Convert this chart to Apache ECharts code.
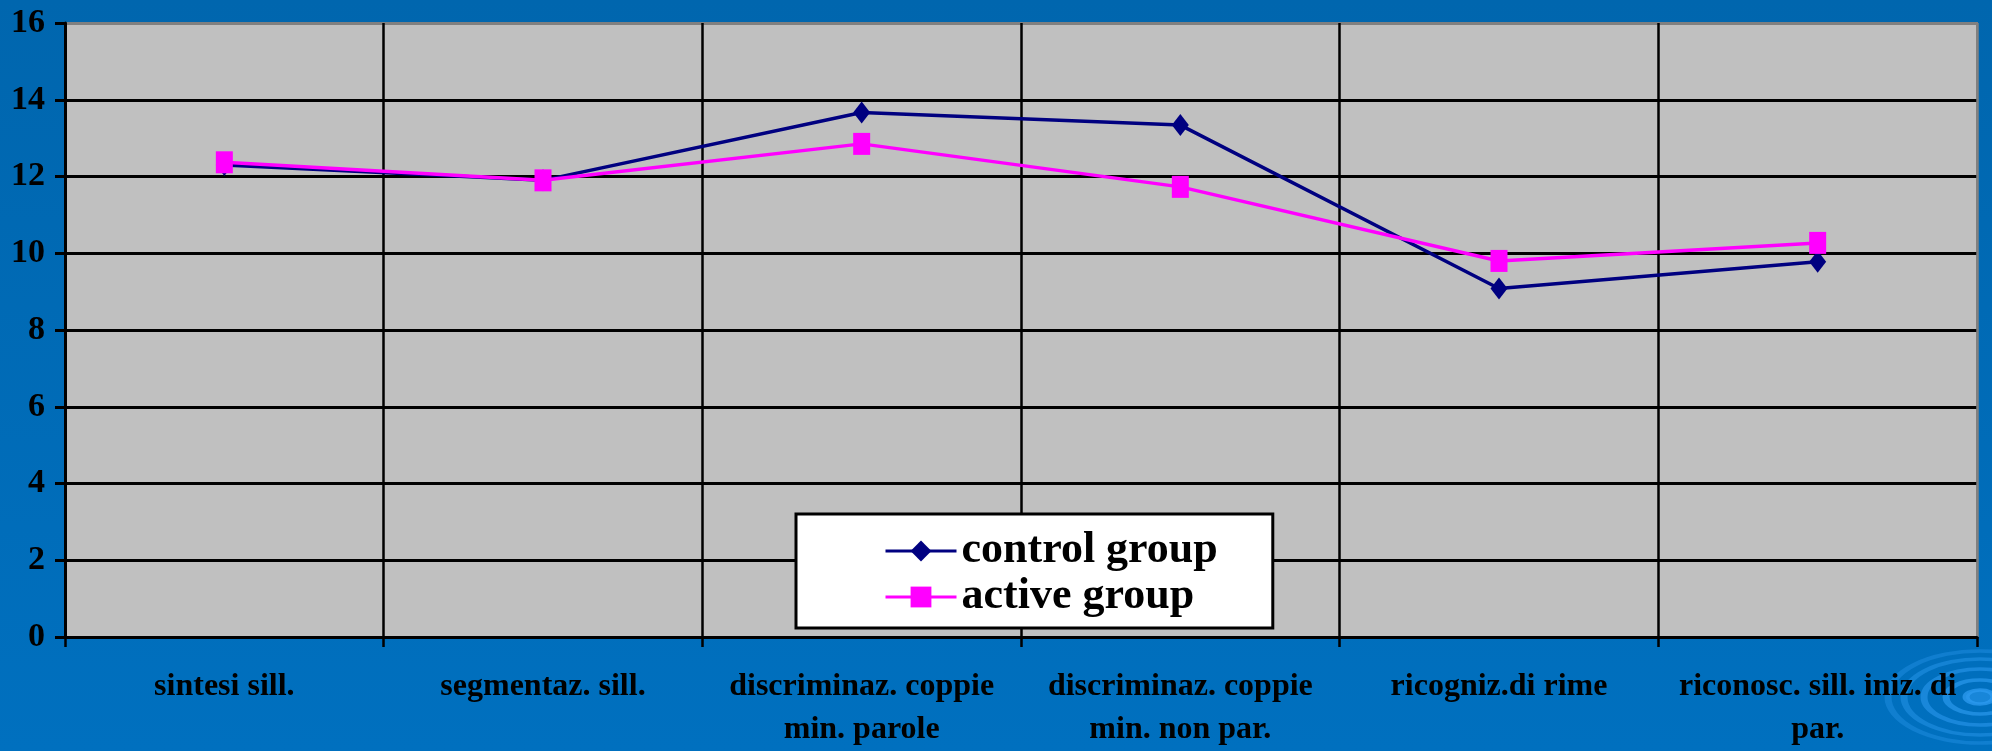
<!DOCTYPE html>
<html>
<head>
<meta charset="utf-8">
<title>control group vs active group</title>
<script src="https://cdn.jsdelivr.net/npm/echarts@6/dist/echarts.min.js"></script>
<style>
  html, body { margin: 0; padding: 0; background: #006AB4; }
  #chart { width: 1992px; height: 751px; }
</style>
</head>
<body>
<div id="chart"></div>
<script>
// Task categories (x axis), with manual line breaks
const categories = [
  'sintesi sill.',
  'segmentaz. sill.',
  'discriminaz. coppie\nmin. parole',
  'discriminaz. coppie\nmin. non par.',
  'ricogniz.di rime',
  'riconosc. sill. iniz. di\npar.'
];

// Mean scores per group
const controlGroup = [12.30, 11.90, 13.67, 13.34, 9.08, 9.78];
const activeGroup  = [12.37, 11.90, 12.85, 11.73, 9.80, 10.27];

const seriesNames = ['control group', 'active group'];

// Value axis range
const yMin = 0;
const yMax = 16;
const yStep = 2;

const serif = '"Liberation Serif", "Times New Roman", serif';
const yLineCount = (yMax - yMin) / yStep + 1;
const ySplitColors = Array.from({ length: yLineCount }, (_, i) => i === yLineCount - 1 ? '#808080' : '#000000');
const xSplitColors = Array.from({ length: categories.length + 1 }, (_, i) => i === categories.length ? '#808080' : '#000000');

const chart = echarts.init(document.getElementById('chart'), null, { renderer: 'canvas' });

// Concentric ripple rings in the lower-right corner of the slide
const rippleRadii = [14, 34, 56, 76, 92];
const ripple = {
  type: 'group',
  x: 1980,
  y: 697,
  scaleY: 0.5,
  silent: true,
  z: -1,
  children: rippleRadii.map((r, i) => ({
    type: 'circle',
    shape: { cx: 0, cy: 0, r: r },
    style: {
      fill: i === 0 ? 'rgba(40, 150, 235, 0.6)' : null,
      stroke: 'rgba(45, 155, 240, ' + (0.75 - i * 0.1) + ')',
      lineWidth: 7
    }
  }))
};

chart.setOption({
  backgroundColor: {
    type: 'linear', x: 0, y: 0, x2: 0, y2: 1,
    colorStops: [
      { offset: 0, color: '#0066AE' },
      { offset: 1, color: '#0070BF' }
    ]
  },
  animation: false,
  graphic: [ripple],
  grid: {
    left: 65, right: 15, top: 23, bottom: 110,
    show: true,
    backgroundColor: '#C0C0C0',
    borderColor: '#808080',
    borderWidth: 2
  },
  legend: {
    orient: 'vertical',
    left: 796,
    top: 514,
    data: seriesNames,
    backgroundColor: '#FFFFFF',
    borderColor: '#000000',
    borderWidth: 3,
    borderRadius: 0,
    padding: [14, 55, 8, 88],
    itemGap: 0,
    itemWidth: 71,
    itemHeight: 26,
    lineStyle: { width: 3 },
    textStyle: {
      fontFamily: serif,
      fontWeight: 'bold',
      fontSize: 44,
      lineHeight: 46,
      color: '#000000'
    }
  },
  xAxis: {
    type: 'category',
    data: categories,
    boundaryGap: true,
    axisLine: { show: true, lineStyle: { color: '#000000', width: 3 } },
    axisTick: { show: true, inside: false, length: 10, alignWithLabel: false, lineStyle: { color: '#000000', width: 2.5 } },
    splitLine: { show: true, lineStyle: { color: xSplitColors, width: 2.5 } },
    axisLabel: {
      interval: 0,
      margin: 28,
      fontFamily: serif,
      fontWeight: 'bold',
      fontSize: 32,
      lineHeight: 43,
      color: '#000000',
      align: 'center'
    }
  },
  yAxis: {
    type: 'value',
    min: yMin,
    max: yMax,
    interval: yStep,
    axisLine: { show: true, lineStyle: { color: '#000000', width: 3 } },
    axisTick: { show: true, inside: false, length: 10, lineStyle: { color: '#000000', width: 3 } },
    splitLine: { show: true, lineStyle: { color: ySplitColors, width: 3 } },
    axisLabel: {
      margin: 20,
      fontFamily: serif,
      fontWeight: 'bold',
      fontSize: 34,
      color: '#000000'
    }
  },
  series: [
    {
      name: seriesNames[0],
      type: 'line',
      data: controlGroup,
      symbol: 'diamond',
      symbolSize: [17, 22],
      showAllSymbol: true,
      z: 3,
      itemStyle: { color: '#000080' },
      lineStyle: { color: '#000080', width: 3.5 }
    },
    {
      name: seriesNames[1],
      type: 'line',
      data: activeGroup,
      symbol: 'rect',
      symbolSize: [17, 22],
      showAllSymbol: true,
      z: 4,
      itemStyle: { color: '#FF00FF' },
      lineStyle: { color: '#FF00FF', width: 3.5 }
    }
  ]
});
</script>
</body>
</html>
